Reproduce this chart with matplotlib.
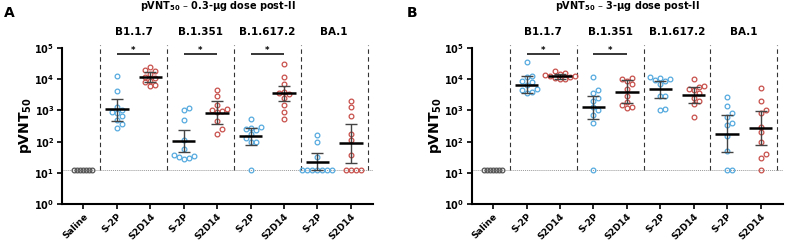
"""pVNT50 neutralising titres after the second dose, two dose levels side by side."""

import matplotlib.pyplot as plt
import numpy as np

LOD = 12.5
CATEGORIES = ["Saline", "S-2P", "S2D14", "S-2P", "S2D14", "S-2P", "S2D14", "S-2P", "S2D14"]
VARIANTS = ["B1.1.7", "B.1.351", "B.1.617.2", "BA.1"]
SALINE = [LOD] * 7

# panel A: 0.3-ug dose, per group (S-2P, S2D14) for each variant
A_POINTS = [
    [13000, 4300, 1300, 1050, 900, 800, 650, 500, 380, 270],
    [24000, 20000, 18000, 15000, 12000, 11000, 9000, 8000, 6500, 6000],
    [1200, 1000, 500, 110, 60, 38, 35, 33, 30, 28],
    [4500, 3000, 1500, 1100, 1000, 950, 900, 450, 250, 180],
    [520, 300, 280, 260, 240, 180, 130, 100, 95, LOD],
    [30000, 12000, 7000, 4000, 3600, 3400, 2500, 1450, 900, 540],
    [160, 95, 32, LOD, LOD, LOD, LOD, LOD, LOD, LOD],
    [2000, 1300, 650, 180, 110, 38, LOD, LOD, LOD, LOD],
]
A_CENTER = [1100, 11500, 105, 850, 150, 3500, 22, 90]
A_LOW = [450, 8000, 45, 370, 80, 2000, 12, 20]
A_HIGH = [2400, 17000, 240, 2000, 270, 6300, 43, 380]
A_SIG = [True, True, True, False]

# panel B: 3-ug dose
B_POINTS = [
    [35000, 13000, 12000, 9000, 8000, 6500, 5000, 4500, 4000, 3500],
    [18000, 16000, 15000, 14000, 13000, 12500, 12000, 11000, 10500, 10000],
    [11500, 4500, 3500, 2500, 2000, 1300, 1000, 700, 400, LOD],
    [11000, 10000, 9000, 7000, 5000, 3000, 1800, 1500, 1300, 1200],
    [12000, 11000, 10000, 9500, 8500, 7000, 3000, 2800, 1100, 1000],
    [10000, 6000, 5500, 5000, 4500, 3500, 2500, 2000, 1600, 600],
    [2600, 1400, 800, 600, 400, 350, 150, 50, LOD, LOD],
    [5200, 2000, 1000, 800, 300, 200, 100, 40, 30, LOD],
]
B_CENTER = [6500, 12500, 1250, 4000, 4800, 3100, 180, 280]
B_LOW = [3500, 10500, 530, 1700, 2500, 1700, 45, 80]
B_HIGH = [12500, 15000, 3000, 9500, 8500, 5500, 700, 950]
B_SIG = [True, True, False, False]

BLUE = "#55aadf"
RED = "#c8504b"
GREY = "#555555"


def swarm_offsets(ax, x0, values, min_px=5.0):
    """Place points side by side where they would overlap, in pixel space."""
    pts = ax.transData.transform(np.column_stack([np.full(len(values), x0), values]))
    order = np.argsort(pts[:, 1])
    placed = []
    offsets = np.zeros(len(values))
    for i in order:
        y = pts[i, 1]
        for k in range(40):
            dx = ((k + 1) // 2) * min_px * (1 if k % 2 else -1) if k else 0.0
            if all((dx - px) ** 2 + (y - py) ** 2 >= min_px ** 2 for px, py in placed):
                break
        placed.append((dx, y))
        offsets[i] = dx
    # back to data units
    unit = ax.transData.transform([[1, 1]])[0, 0] - ax.transData.transform([[0, 1]])[0, 0]
    return offsets / unit


def draw_panel(ax, points, center, low, high, sig, title, letter, letter_x):
    ax.set_yscale("log")
    ax.set_ylim(1, 1e5)
    ax.set_xlim(-0.64, 8.66)
    ax.axhline(LOD, color="#999999", lw=0.7, ls=(0, (1, 1)), zorder=1)
    for xd in [0.5, 2.5, 4.5, 6.5, 8.5]:
        ax.vlines(xd, LOD, 1.25e5, color="#333333", lw=0.8, ls=(0, (4, 3)), clip_on=False, zorder=1)

    off = swarm_offsets(ax, 0, SALINE, min_px=3.0)
    ax.plot(off, SALINE, "o", mfc="none", mec=GREY, ms=3.4, mew=0.9, zorder=3)

    for i, vals in enumerate(points):
        x = i + 1
        color = BLUE if i % 2 == 0 else RED
        off = swarm_offsets(ax, x, vals)
        ax.plot(x + off, vals, "o", mfc="none", mec=color, ms=3.4, mew=0.9, zorder=3)
        ax.vlines(x, low[i], high[i], color="#444444", lw=1.0, zorder=4)
        ax.hlines([low[i], high[i]], x - 0.18, x + 0.18, color="#444444", lw=1.0, zorder=4)
        ax.hlines(center[i], x - 0.35, x + 0.35, color="black", lw=1.8, zorder=5)

    for j, name in enumerate(VARIANTS):
        xc = 2 * j + 1.5
        ax.text(xc, 3.2e5, name, ha="center", va="center", fontsize=7.5, fontweight="bold")
        if sig[j]:
            ax.hlines(6.6e4, xc - 0.5, xc + 0.5, color="black", lw=1.1, clip_on=False)
            ax.text(xc, 8.3e4, "*", ha="center", va="center", fontsize=6, fontweight="bold")

    ax.set_xticks(range(len(CATEGORIES)))
    ax.set_xticklabels(CATEGORIES, rotation=45, ha="right", rotation_mode="anchor",
                       fontsize=6.5, fontweight="bold")
    ax.set_yticks([1, 10, 100, 1e3, 1e4, 1e5])
    ax.set_yticklabels([rf"$\mathbf{{10^{k}}}$" for k in range(6)], fontsize=7)
    ax.minorticks_off()
    ax.tick_params(axis="both", length=3.5, width=1.2, direction="out", pad=2)
    for side in ("top", "right"):
        ax.spines[side].set_visible(False)
    for side in ("left", "bottom"):
        ax.spines[side].set_linewidth(1.5)
    ax.set_ylabel(r"$\mathbf{pVNT_{50}}$", fontsize=10, labelpad=0)
    ax.set_title(title, fontsize=7, fontweight="bold", y=1.2)
    ax.figure.text(letter_x, 0.945, letter, fontsize=10, fontweight="bold", ha="left", va="center")


fig = plt.figure(figsize=(7.85, 2.44), dpi=100)
ax_a = fig.add_axes([0.079, 0.164, 0.396, 0.639])
ax_b = fig.add_axes([0.601, 0.164, 0.396, 0.639])
draw_panel(ax_a, A_POINTS, A_CENTER, A_LOW, A_HIGH, A_SIG,
           r"pVNT$_{\mathbf{50}}$ – 0.3-μg dose post-II", "A", 0.005)
draw_panel(ax_b, B_POINTS, B_CENTER, B_LOW, B_HIGH, B_SIG,
           r"pVNT$_{\mathbf{50}}$ – 3-μg dose post-II", "B", 0.518)
fig.savefig("out.png", dpi=100)
